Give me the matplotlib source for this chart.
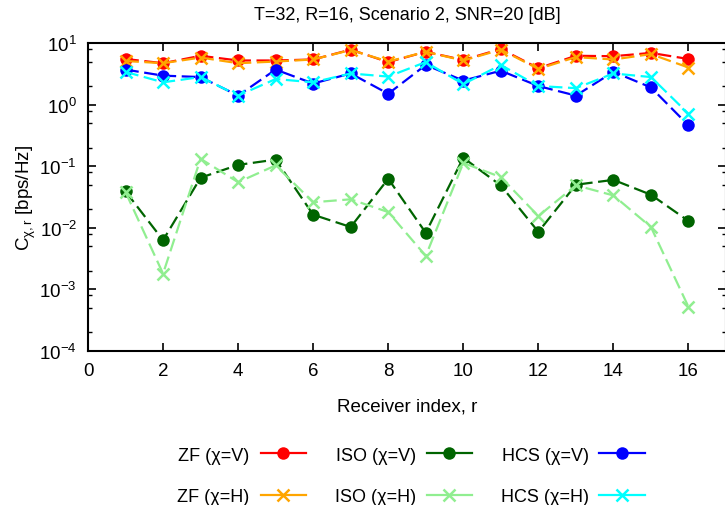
import matplotlib
matplotlib.use("Agg")
from matplotlib import pyplot as plt
from matplotlib.lines import Line2D
from matplotlib.ticker import LogLocator, NullFormatter

plt.rcParams['font.family'] = ['Liberation Sans', 'DejaVu Sans']
plt.rcParams['mathtext.fontset'] = 'custom'
plt.rcParams['mathtext.rm'] = 'Liberation Sans'
plt.rcParams['mathtext.it'] = 'Liberation Sans:italic'
plt.rcParams['mathtext.default'] = 'regular'

receiver = list(range(1, 17))

zf_v = [5.5, 4.7, 6.2, 5.2, 5.2, 5.4, 7.8, 4.9, 7.2, 5.3, 8.0, 3.9, 6.2, 6.1, 6.9, 5.5]
zf_h = [5.1, 4.7, 5.8, 4.7, 5.0, 5.4, 7.7, 5.0, 7.2, 5.2, 7.8, 3.8, 5.9, 5.4, 6.6, 4.0]
iso_v = [0.039, 0.0063, 0.065, 0.105, 0.128, 0.0163, 0.0103, 0.0625,
         0.0083, 0.137, 0.0487, 0.0086, 0.050, 0.060, 0.0344, 0.0129]
iso_h = [0.038, 0.0018, 0.132, 0.055, 0.103, 0.026, 0.029, 0.018,
         0.0035, 0.113, 0.0665, 0.0155, 0.049, 0.0335, 0.0103, 0.00052]
hcs_v = [3.7, 2.95, 2.8, 1.4, 3.7, 2.2, 3.2, 1.5, 4.4, 2.45, 3.55, 2.0, 1.4, 3.4, 1.9, 0.46]
hcs_h = [3.4, 2.3, 2.8, 1.4, 2.6, 2.3, 3.2, 2.85, 4.9, 2.15, 4.4, 2.0, 1.85, 3.2, 2.8, 0.71]

series = [
    ("ZF (χ=V)", zf_v, "#ff0000", "o"),
    ("ZF (χ=H)", zf_h, "#ffa500", "x"),
    ("ISO (χ=V)", iso_v, "#006400", "o"),
    ("ISO (χ=H)", iso_h, "#90ee90", "x"),
    ("HCS (χ=V)", hcs_v, "#0000ff", "o"),
    ("HCS (χ=H)", hcs_h, "#00ffff", "x"),
]

fig = plt.figure(figsize=(7.25, 5.06), dpi=100)
ax = fig.add_axes([88 / 725, 1 - 352 / 506, 638 / 725, 308 / 506])

handles = {}
for label, vals, color, mk in series:
    if mk == "o":
        kw = dict(marker="o", markersize=9, markeredgewidth=0)
    else:
        kw = dict(marker="x", markersize=9, markeredgewidth=1.8)
    ax.plot(receiver, vals, color=color, lw=1.6, linestyle=(0, (6, 2.5)), **kw)
    handles[label] = Line2D([], [], color=color, lw=1.6, **kw)

ax.set_yscale("log")
ax.set_ylim(1e-4, 10)
ax.set_xlim(0, 17)
ax.set_xticks(range(0, 17, 2))
ax.yaxis.set_major_locator(LogLocator(base=10, numticks=10))
ax.yaxis.set_minor_locator(LogLocator(base=10, subs=[2, 5, 8], numticks=20))
ax.yaxis.set_minor_formatter(NullFormatter())
ax.tick_params(which="both", direction="in", top=True, right=True, labelsize=13.5)
ax.tick_params(which="major", length=6, width=1.2, pad=8)
ax.tick_params(which="minor", length=3, width=1.0)
for sp in ax.spines.values():
    sp.set_linewidth(1.5)

ax.set_title("T=32, R=16, Scenario 2, SNR=20 [dB]", fontsize=13, pad=17)
ax.set_xlabel("Receiver index, r", fontsize=13.5, labelpad=13)
ax.set_ylabel(r"C$_{\chi,r}$ [bps/Hz]", fontsize=13.5, labelpad=1)

order = ["ZF (χ=V)", "ZF (χ=H)", "ISO (χ=V)", "ISO (χ=H)", "HCS (χ=V)", "HCS (χ=H)"]
fig.legend([handles[k] for k in order], order, ncol=3, loc="center",
           bbox_to_anchor=(411 / 725, 1 - 477 / 506), frameon=False,
           markerfirst=False, numpoints=1, fontsize=13, handlelength=2.5,
           handletextpad=0.6, columnspacing=1.6, labelspacing=1.35)

fig.savefig("out.png", dpi=100)
